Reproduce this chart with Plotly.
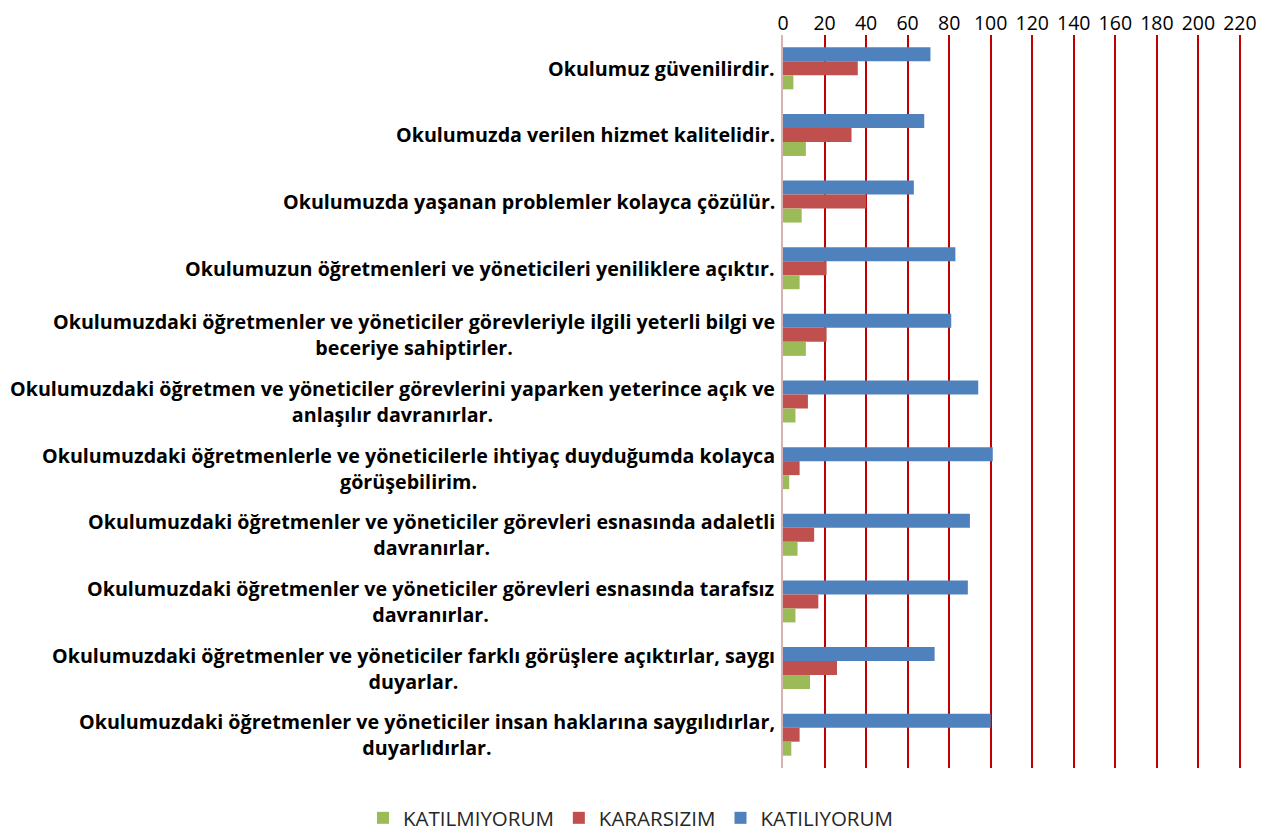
import plotly.graph_objects as go

categories = [
    "Okulumuz güvenilirdir.",
    "Okulumuzda verilen hizmet kalitelidir.",
    "Okulumuzda yaşanan problemler kolayca çözülür.",
    "Okulumuzun öğretmenleri ve yöneticileri yeniliklere açıktır.",
    "Okulumuzdaki öğretmenler ve yöneticiler görevleriyle ilgili yeterli bilgi ve<br>beceriye sahiptirler.",
    "Okulumuzdaki öğretmen ve yöneticiler görevlerini yaparken yeterince açık ve<br>anlaşılır davranırlar.",
    "Okulumuzdaki öğretmenlerle ve yöneticilerle ihtiyaç duyduğumda kolayca<br>görüşebilirim.",
    "Okulumuzdaki öğretmenler ve yöneticiler görevleri esnasında adaletli<br>davranırlar.",
    "Okulumuzdaki öğretmenler ve yöneticiler görevleri esnasında tarafsız<br>davranırlar.",
    "Okulumuzdaki öğretmenler ve yöneticiler farklı görüşlere açıktırlar, saygı<br>duyarlar.",
    "Okulumuzdaki öğretmenler ve yöneticiler insan haklarına saygılıdırlar,<br>duyarlıdırlar.",
]
katilmiyorum = [5, 11, 9, 8, 11, 6, 3, 7, 6, 13, 4]
kararsizim = [36, 33, 40, 21, 21, 12, 8, 15, 17, 26, 8]
katiliyorum = [71, 68, 63, 83, 81, 94, 101, 90, 89, 73, 100]
x_ticks = list(range(0, 221, 20))

ids = list(range(len(categories)))

fig = go.Figure()
fig.add_trace(go.Bar(y=ids, x=katiliyorum, orientation="h", name="KATILIYORUM",
                     marker=dict(color="#4F81BD", line=dict(width=0))))
fig.add_trace(go.Bar(y=ids, x=kararsizim, orientation="h", name="KARARSIZIM",
                     marker=dict(color="#C0504D", line=dict(width=0))))
fig.add_trace(go.Bar(y=ids, x=katilmiyorum, orientation="h", name="KATILMIYORUM",
                     marker=dict(color="#9BBB59", line=dict(width=0))))

for i, c in enumerate(categories):
    fig.add_annotation(x=0, xref="paper", y=i, yref="y", text=c, showarrow=False,
                       xanchor="right", xshift=-6, align="center",
                       font=dict(family="Open Sans", size=19.7, color="#000000", weight="bold"))

L, R, T, B = 775, 44, 27, 76
plot_w = 1278 - L - R
plot_h = 836 - T - B
fig.update_layout(
    width=1278, height=836,
    paper_bgcolor="white", plot_bgcolor="white",
    barmode="group", bargap=0.37, bargroupgap=0,
    margin=dict(l=L, r=R, t=T, b=B, autoexpand=False),
    font=dict(family="Open Sans", color="#000000"),
    legend=dict(orientation="h", traceorder="reversed",
                x=(355 - L) / plot_w, xref="paper", xanchor="left",
                y=-50 / plot_h, yref="paper", yanchor="middle",
                font=dict(size=20.5, color="#262626"), itemwidth=30),
    showlegend=True,
)
fig.update_xaxes(side="top", range=[0, 221], tickvals=x_ticks, ticktext=[str(v) for v in x_ticks],
                 showgrid=True, gridcolor="#C00000", gridwidth=2, zeroline=False, automargin=False,
                 showline=False, ticks="",
                 tickfont=dict(size=19.5, color="#000000"))
fig.update_yaxes(autorange="reversed", showticklabels=False, showgrid=False, zeroline=False,
                 automargin=False,
                 showline=True, linecolor="#D9B3B3", linewidth=2, ticks="")

fig.write_html("out.html")
